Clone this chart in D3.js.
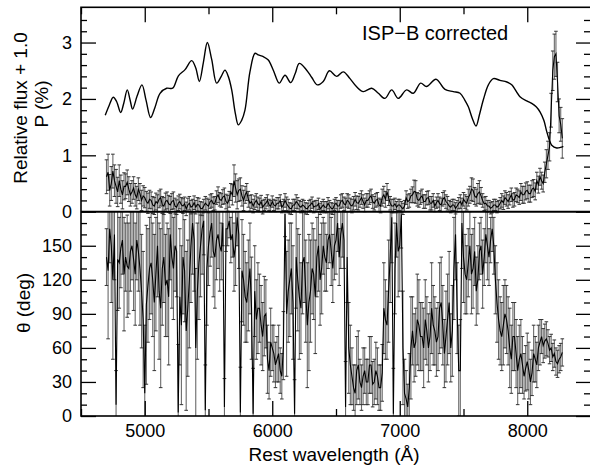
<!DOCTYPE html>
<html>
<head>
<meta charset="utf-8">
<script src="https://cdn.jsdelivr.net/npm/d3@7"></script>
<style>
  body { margin: 0; background: #fff; }
  text { font-family: "Liberation Sans", Arial, Helvetica, sans-serif; fill: #000; }
</style>
</head>
<body>
<div id="chart-area"></div>
<script>
// bin centres (Angstrom) of the polarimetry, one row per 100 A
var wave = [4700, 4712.5, 4725, 4737.5, 4750, 4762.5, 4775, 4787.5,
  4800, 4812.5, 4825, 4837.5, 4850, 4862.5, 4875, 4887.5,
  4900, 4912.5, 4925, 4937.5, 4950, 4962.5, 4975, 4987.5,
  5000, 5012.5, 5025, 5037.5, 5050, 5062.5, 5075, 5087.5,
  5100, 5112.5, 5125, 5137.5, 5150, 5162.5, 5175, 5187.5,
  5200, 5212.5, 5225, 5237.5, 5250, 5262.5, 5275, 5287.5,
  5300, 5312.5, 5325, 5337.5, 5350, 5362.5, 5375, 5387.5,
  5400, 5412.5, 5425, 5437.5, 5450, 5462.5, 5475, 5487.5,
  5500, 5512.5, 5525, 5537.5, 5550, 5562.5, 5575, 5587.5,
  5600, 5612.5, 5625, 5637.5, 5650, 5662.5, 5675, 5687.5,
  5700, 5712.5, 5725, 5737.5, 5750, 5762.5, 5775, 5787.5,
  5800, 5812.5, 5825, 5837.5, 5850, 5862.5, 5875, 5887.5,
  5900, 5912.5, 5925, 5937.5, 5950, 5962.5, 5975, 5987.5,
  6000, 6012.5, 6025, 6037.5, 6050, 6062.5, 6075, 6087.5,
  6100, 6112.5, 6125, 6137.5, 6150, 6162.5, 6175, 6187.5,
  6200, 6212.5, 6225, 6237.5, 6250, 6262.5, 6275, 6287.5,
  6300, 6312.5, 6325, 6337.5, 6350, 6362.5, 6375, 6387.5,
  6400, 6412.5, 6425, 6437.5, 6450, 6462.5, 6475, 6487.5,
  6500, 6512.5, 6525, 6537.5, 6550, 6562.5, 6575, 6587.5,
  6600, 6612.5, 6625, 6637.5, 6650, 6662.5, 6675, 6687.5,
  6700, 6712.5, 6725, 6737.5, 6750, 6762.5, 6775, 6787.5,
  6800, 6812.5, 6825, 6837.5, 6850, 6862.5, 6875, 6887.5,
  6900, 6912.5, 6925, 6937.5, 6950, 6962.5, 6975, 6987.5,
  7000, 7012.5, 7025, 7037.5, 7050, 7062.5, 7075, 7087.5,
  7100, 7112.5, 7125, 7137.5, 7150, 7162.5, 7175, 7187.5,
  7200, 7212.5, 7225, 7237.5, 7250, 7262.5, 7275, 7287.5,
  7300, 7312.5, 7325, 7337.5, 7350, 7362.5, 7375, 7387.5,
  7400, 7412.5, 7425, 7437.5, 7450, 7462.5, 7475, 7487.5,
  7500, 7512.5, 7525, 7537.5, 7550, 7562.5, 7575, 7587.5,
  7600, 7612.5, 7625, 7637.5, 7650, 7662.5, 7675, 7687.5,
  7700, 7712.5, 7725, 7737.5, 7750, 7762.5, 7775, 7787.5,
  7800, 7812.5, 7825, 7837.5, 7850, 7862.5, 7875, 7887.5,
  7900, 7912.5, 7925, 7937.5, 7950, 7962.5, 7975, 7987.5,
  8000, 8012.5, 8025, 8037.5, 8050, 8062.5, 8075, 8087.5,
  8100, 8112.5, 8125, 8137.5, 8150, 8162.5, 8175, 8187.5,
  8200, 8212.5, 8225, 8237.5, 8250, 8262.5, 8275];

// P (%)
var pol = [0.62, 0.70, 0.38, 0.50, 0.72, 0.55, 0.45, 0.35,
  0.55, 0.40, 0.30, 0.45, 0.45, 0.52, 0.40, 0.30,
  0.35, 0.42, 0.30, 0.25, 0.40, 0.32, 0.20, 0.28,
  0.25, 0.18, 0.15, 0.22, 0.20, 0.12, 0.10, 0.18,
  0.15, 0.22, 0.25, 0.12, 0.10, 0.18, 0.20, 0.14,
  0.12, 0.18, 0.20, 0.10, 0.08, 0.15, 0.18, 0.12,
  0.10, 0.14, 0.05, 0.12, 0.15, 0.08, 0.10, 0.16,
  0.08, 0.13, 0.12, 0.06, 0.05, 0.10, 0.15, 0.12,
  0.10, 0.18, 0.20, 0.14, 0.15, 0.25, 0.30, 0.22,
  0.20, 0.26, 0.28, 0.18, 0.15, 0.22, 0.35, 0.30,
  0.55, 0.42, 0.30, 0.38, 0.40, 0.28, 0.20, 0.30,
  0.35, 0.22, 0.15, 0.18, 0.10, 0.16, 0.20, 0.14,
  0.12, 0.18, 0.08, 0.12, 0.15, 0.20, 0.12, 0.10,
  0.18, 0.12, 0.10, 0.15, 0.15, 0.20, 0.08, 0.12,
  0.20, 0.14, 0.10, 0.06, 0.05, 0.12, 0.12, 0.18,
  0.15, 0.10, 0.08, 0.12, 0.10, 0.06, 0.05, 0.10,
  0.12, 0.16, 0.08, 0.10, 0.10, 0.14, 0.05, 0.08,
  0.12, 0.08, 0.08, 0.15, 0.10, 0.06, 0.05, 0.12,
  0.15, 0.10, 0.10, 0.18, 0.20, 0.14, 0.12, 0.20,
  0.18, 0.12, 0.10, 0.15, 0.22, 0.16, 0.15, 0.20,
  0.25, 0.18, 0.12, 0.20, 0.20, 0.25, 0.28, 0.18,
  0.15, 0.20, 0.22, 0.12, 0.10, 0.25, 0.30, 0.22,
  0.35, 0.25, 0.15, 0.10, 0.10, 0.14, 0.08, 0.12,
  0.12, 0.08, 0.05, 0.10, 0.25, 0.18, 0.20, 0.28,
  0.30, 0.36, 0.35, 0.22, 0.20, 0.25, 0.28, 0.18,
  0.18, 0.24, 0.25, 0.15, 0.15, 0.20, 0.10, 0.16,
  0.20, 0.14, 0.12, 0.22, 0.25, 0.18, 0.15, 0.10,
  0.08, 0.12, 0.12, 0.06, 0.10, 0.15, 0.18, 0.12,
  0.22, 0.18, 0.15, 0.25, 0.30, 0.40, 0.38, 0.28,
  0.25, 0.32, 0.35, 0.28, 0.20, 0.14, 0.15, 0.10,
  0.10, 0.06, 0.08, 0.12, 0.12, 0.08, 0.10, 0.15,
  0.20, 0.16, 0.25, 0.22, 0.18, 0.24, 0.30, 0.20,
  0.22, 0.30, 0.28, 0.25, 0.35, 0.30, 0.30, 0.36,
  0.38, 0.32, 0.32, 0.40, 0.42, 0.36, 0.55, 0.48,
  0.62, 0.55, 0.50, 0.70, 0.85, 1.00, 1.15, 1.80,
  2.50, 2.75, 2.80, 2.30, 1.70, 1.55, 1.30];

var polErr = [0.30, 0.32, 0.28, 0.30, 0.30, 0.28, 0.30, 0.26,
  0.28, 0.25, 0.25, 0.24, 0.22, 0.22, 0.22, 0.20,
  0.20, 0.20, 0.20, 0.20, 0.20, 0.18, 0.18, 0.18,
  0.18, 0.18, 0.18, 0.16, 0.15, 0.15, 0.15, 0.15,
  0.15, 0.15, 0.15, 0.15, 0.15, 0.15, 0.15, 0.15,
  0.15, 0.14, 0.15, 0.14, 0.13, 0.13, 0.13, 0.13,
  0.13, 0.12, 0.12, 0.12, 0.12, 0.12, 0.12, 0.12,
  0.12, 0.12, 0.12, 0.12, 0.12, 0.12, 0.12, 0.12,
  0.12, 0.12, 0.12, 0.12, 0.12, 0.12, 0.14, 0.12,
  0.12, 0.13, 0.14, 0.13, 0.14, 0.14, 0.15, 0.18,
  0.28, 0.25, 0.25, 0.20, 0.20, 0.18, 0.18, 0.15,
  0.15, 0.14, 0.14, 0.12, 0.12, 0.12, 0.12, 0.12,
  0.12, 0.11, 0.12, 0.10, 0.10, 0.10, 0.10, 0.10,
  0.10, 0.10, 0.10, 0.10, 0.10, 0.10, 0.10, 0.10,
  0.12, 0.12, 0.12, 0.10, 0.10, 0.10, 0.10, 0.12,
  0.10, 0.10, 0.10, 0.10, 0.10, 0.10, 0.10, 0.10,
  0.10, 0.10, 0.10, 0.10, 0.10, 0.10, 0.10, 0.10,
  0.10, 0.10, 0.10, 0.10, 0.10, 0.10, 0.10, 0.10,
  0.10, 0.10, 0.10, 0.12, 0.12, 0.12, 0.12, 0.12,
  0.12, 0.12, 0.12, 0.12, 0.12, 0.12, 0.12, 0.12,
  0.12, 0.12, 0.12, 0.12, 0.12, 0.12, 0.12, 0.12,
  0.12, 0.12, 0.12, 0.12, 0.12, 0.15, 0.15, 0.14,
  0.15, 0.14, 0.12, 0.12, 0.12, 0.10, 0.10, 0.10,
  0.10, 0.10, 0.10, 0.10, 0.12, 0.12, 0.12, 0.12,
  0.14, 0.20, 0.20, 0.12, 0.12, 0.12, 0.12, 0.12,
  0.12, 0.12, 0.12, 0.12, 0.12, 0.12, 0.10, 0.10,
  0.12, 0.12, 0.12, 0.12, 0.12, 0.12, 0.12, 0.10,
  0.10, 0.10, 0.10, 0.10, 0.10, 0.10, 0.12, 0.12,
  0.12, 0.12, 0.12, 0.15, 0.15, 0.20, 0.20, 0.15,
  0.15, 0.18, 0.20, 0.15, 0.12, 0.12, 0.12, 0.10,
  0.10, 0.10, 0.10, 0.10, 0.10, 0.10, 0.10, 0.10,
  0.12, 0.12, 0.12, 0.12, 0.12, 0.12, 0.12, 0.12,
  0.12, 0.12, 0.12, 0.12, 0.15, 0.15, 0.15, 0.15,
  0.15, 0.15, 0.15, 0.15, 0.15, 0.15, 0.15, 0.15,
  0.15, 0.15, 0.15, 0.18, 0.25, 0.25, 0.25, 0.30,
  0.35, 0.40, 0.40, 0.35, 0.30, 0.30, 0.35];

// position angle (deg)
var theta = [140, 128, 165, 150, 120, 160, 10, 138,
  135, 148, 155, 125, 140, 132, 130, 145,
  150, 138, 125, 155, 145, 130, 110, 85,
  20, 98, 115, 130, 135, 120, 100, 125,
  150, 110, 95, 130, 140, 115, 120, 105,
  160, 140, 130, 150, 145, 3, 105, 80,
  140, 128, 75, 95, 120, 150, 170, 155,
  60, 110, 135, 150, 165, 172, 5, 130,
  150, 162, 170, 145, 140, 155, 160, 150,
  145, 170, 8, 165, 165, 172, 155, 160,
  140, 150, 175, 160, 3, 128, 120, 105,
  100, 115, 130, 95, 2, 110, 85, 95,
  95, 80, 70, 88, 90, 50, 40, 65,
  60, 55, 45, 50, 55, 40, 35, 62,
  178, 90, 110, 120, 130, 100, 2, 140,
  120, 105, 95, 135, 140, 110, 80, 100,
  110, 130, 125, 105, 140, 150, 120, 130,
  150, 140, 135, 155, 160, 145, 130, 150,
  155, 170, 140, 160, 170, 155, 8, 140,
  60, 45, 35, 25, 20, 40, 45, 30,
  25, 35, 40, 30, 30, 45, 45, 28,
  30, 40, 35, 25, 25, 38, 95, 85,
  80, 110, 140, 175, 2, 130, 170, 145,
  150, 178, 60, 20, 15, 8, 25, 60,
  75, 60, 65, 85, 80, 70, 70, 60,
  85, 75, 60, 70, 95, 80, 75, 65,
  70, 95, 100, 80, 55, 70, 85, 100,
  60, 75, 130, 160, 95, 40, 40, 170,
  140, 125, 120, 135, 150, 125, 130, 145,
  110, 120, 145, 150, 125, 140, 160, 150,
  140, 155, 165, 150, 120, 100, 85, 75,
  70, 80, 90, 85, 75, 60, 50, 70,
  70, 55, 40, 50, 55, 45, 35, 42,
  48, 40, 30, 38, 55, 50, 45, 60,
  65, 70, 62, 66, 68, 64, 58, 60,
  52, 55, 48, 46, 50, 52, 56];

var thetaErr = [25, 60, 30, 50, 70, 40, 30, 45,
  40, 35, 30, 50, 30, 45, 40, 35,
  30, 45, 45, 35, 35, 50, 50, 60,
  60, 70, 50, 45, 45, 50, 60, 50,
  45, 60, 70, 50, 40, 45, 50, 60,
  40, 45, 45, 40, 40, 60, 60, 70,
  50, 45, 70, 60, 60, 50, 45, 45,
  70, 60, 50, 45, 40, 30, 40, 50,
  35, 30, 30, 40, 45, 35, 30, 40,
  25, 20, 25, 20, 15, 15, 20, 20,
  30, 35, 25, 30, 40, 45, 40, 40,
  35, 40, 40, 45, 40, 40, 35, 40,
  30, 35, 30, 35, 30, 30, 25, 30,
  20, 25, 20, 20, 25, 20, 20, 30,
  20, 55, 45, 50, 40, 50, 30, 45,
  45, 55, 40, 45, 40, 45, 55, 60,
  45, 40, 40, 50, 35, 40, 40, 40,
  25, 30, 25, 25, 25, 30, 30, 30,
  30, 25, 25, 30, 30, 25, 40, 40,
  40, 35, 25, 20, 25, 30, 30, 20,
  20, 25, 20, 20, 20, 25, 25, 20,
  20, 25, 25, 20, 20, 25, 40, 35,
  30, 45, 40, 40, 40, 40, 30, 40,
  40, 30, 50, 30, 25, 20, 30, 45,
  30, 30, 30, 40, 40, 30, 30, 35,
  35, 30, 30, 30, 40, 35, 30, 30,
  30, 40, 40, 35, 30, 40, 40, 45,
  30, 40, 45, 40, 40, 40, 45, 40,
  40, 35, 30, 30, 30, 35, 35, 30,
  30, 30, 25, 25, 30, 25, 25, 30,
  25, 20, 20, 25, 30, 35, 35, 30,
  30, 35, 30, 30, 30, 35, 30, 30,
  30, 30, 30, 30, 30, 25, 20, 20,
  25, 25, 20, 20, 25, 20, 20, 20,
  20, 15, 15, 15, 15, 12, 12, 12,
  12, 12, 12, 12, 12, 12, 12];

// flux spectrum (relative flux + 1.0)
var fluxWave = [4690, 4720, 4753, 4780, 4811, 4835, 4863, 4885, 4905, 4940,
  4978, 5010, 5046, 5080, 5120, 5172, 5219, 5264, 5316, 5368,
  5400, 5428, 5460, 5491, 5525, 5564, 5600, 5629, 5655, 5682,
  5710, 5734, 5760, 5786, 5825, 5865, 5890, 5930, 5969, 6010,
  6055, 6100, 6145, 6180, 6212, 6270, 6310, 6353, 6400, 6448,
  6505, 6557, 6610, 6660, 6714, 6780, 6832, 6884, 6937, 6988,
  7054, 7106, 7164, 7210, 7284, 7355, 7420, 7473, 7510, 7538,
  7570, 7598, 7625, 7655, 7695, 7734, 7786, 7840, 7878, 7943,
  8000, 8035, 8070, 8100, 8130, 8153, 8175, 8192, 8231, 8260,
  8283];
var flux = [1.71, 1.88, 2.03, 1.95, 1.76, 1.92, 2.16, 1.98, 1.82, 2.05,
  2.25, 1.98, 1.67, 1.85, 2.10, 2.19, 2.19, 2.41, 2.52, 2.68,
  2.55, 2.31, 2.65, 3.00, 2.70, 2.28, 2.40, 2.51, 2.40, 2.16,
  1.75, 1.54, 1.62, 1.80, 2.48, 2.81, 2.78, 2.75, 2.69, 2.50,
  2.28, 2.42, 2.29, 2.45, 2.63, 2.51, 2.38, 2.25, 2.31, 2.50,
  2.40, 2.48, 2.36, 2.22, 2.13, 2.19, 2.10, 2.01, 2.16, 2.01,
  2.16, 2.10, 2.28, 2.22, 2.35, 2.17, 2.13, 2.10, 1.98, 1.86,
  1.65, 1.52, 1.72, 1.98, 2.25, 2.36, 2.33, 2.30, 2.25, 2.04,
  1.96, 1.92, 1.86, 1.77, 1.62, 1.42, 1.26, 1.18, 1.13, 1.14,
  1.16];

var xTicks = [5000, 6000, 7000, 8000];
var xMinor = [4500, 5500, 6500, 7500, 8500];
var pTicks = [0, 1, 2, 3];
var pMinor = [0.2, 0.4, 0.6, 0.8, 1.2, 1.4, 1.6, 1.8, 2.2, 2.4, 2.6, 2.8, 3.2, 3.4];
var thetaTicks = [0, 30, 60, 90, 120, 150];
var thetaMinor = [10, 20, 40, 50, 70, 80, 100, 110, 130, 140, 160, 170];

var width = 590
var height = 466
var plot = { left: 81, right: 591, top: 7.3, mid: 211.7, bottom: 416 }

var svg = d3.select("#chart-area")
  .append("svg")
  .attr("width", width)
  .attr("height", height)

var x = d3.scaleLinear().domain([4500, 8500]).range([plot.left, plot.right])
var yP = d3.scaleLinear().domain([0, 3.625]).range([plot.mid, plot.top])
var yT = d3.scaleLinear().domain([0, 180]).range([plot.bottom, plot.mid])

var defs = svg.append("defs")
defs.append("clipPath").attr("id", "clipP").append("rect")
  .attr("x", plot.left).attr("y", plot.top)
  .attr("width", plot.right - plot.left).attr("height", plot.mid - plot.top + 10)
defs.append("clipPath").attr("id", "clipT").append("rect")
  .attr("x", plot.left).attr("y", plot.mid)
  .attr("width", plot.right - plot.left).attr("height", plot.bottom - plot.mid)

var polData = wave.map((w, i) => { return { w: w, v: pol[i], e: polErr[i] }; })
var thetaData = wave.map((w, i) => { return { w: w, v: theta[i], e: thetaErr[i] }; })

function drawErrors(g, data, y) {
  g.selectAll("line.bar").data(data).enter().append("line")
    .attr("class", "bar")
    .attr("x1", (d) => { return x(d.w); })
    .attr("x2", (d) => { return x(d.w); })
    .attr("y1", (d) => { return y(d.v - d.e); })
    .attr("y2", (d) => { return y(d.v + d.e); })
    .attr("stroke", "#6a6a6a")
    .attr("stroke-width", 1.1)

  var caps = data.flatMap((d) => { return [{ w: d.w, v: d.v - d.e }, { w: d.w, v: d.v + d.e }]; })
  g.selectAll("line.cap").data(caps).enter().append("line")
    .attr("class", "cap")
    .attr("x1", (d) => { return x(d.w) - 1.8; })
    .attr("x2", (d) => { return x(d.w) + 1.8; })
    .attr("y1", (d) => { return y(d.v); })
    .attr("y2", (d) => { return y(d.v); })
    .attr("stroke", "#333")
    .attr("stroke-width", 1)

  var line = d3.line()
    .x((d) => { return x(d.w); })
    .y((d) => { return y(d.v); })
  g.append("path")
    .datum(data)
    .attr("d", line)
    .attr("fill", "none")
    .attr("stroke", "#000")
    .attr("stroke-width", 1.1)
}

// theta panel
var gT = svg.append("g").attr("clip-path", "url(#clipT)")
drawErrors(gT, thetaData, yT)

// P panel
var gP = svg.append("g").attr("clip-path", "url(#clipP)")
drawErrors(gP, polData, yP)

// flux
var fluxLine = d3.line()
  .curve(d3.curveCatmullRom)
  .x((d, i) => { return x(fluxWave[i]); })
  .y((d) => { return yP(d); })
gP.append("path")
  .datum(flux)
  .attr("d", fluxLine)
  .attr("fill", "none")
  .attr("stroke", "#000")
  .attr("stroke-width", 1.4)

// zero line between panels
svg.append("line")
  .attr("x1", plot.left).attr("x2", plot.right)
  .attr("y1", plot.mid).attr("y2", plot.mid)
  .attr("stroke", "#000").attr("stroke-width", 2)

// frame
svg.append("rect")
  .attr("x", plot.left).attr("y", plot.top)
  .attr("width", plot.right - plot.left).attr("height", plot.bottom - plot.top)
  .attr("fill", "none").attr("stroke", "#000").attr("stroke-width", 1.6)

function addAxis(axis, tx, ty) {
  var g = svg.append("g")
    .attr("transform", `translate(${tx}, ${ty})`)
    .call(axis)
  g.select(".domain").remove()
  g.selectAll(".tick line").attr("stroke", "#000").attr("stroke-width", 1.3)
  g.selectAll(".tick text").attr("font-size", "18px").attr("fill", "#000")
  return g
}

// x axes
addAxis(d3.axisBottom(x).tickValues(xTicks).tickSize(-15).tickPadding(8).tickFormat(d3.format("d")), 0, plot.bottom)
addAxis(d3.axisBottom(x).tickValues(xMinor).tickSize(-7).tickFormat(""), 0, plot.bottom)
addAxis(d3.axisTop(x).tickValues(xTicks).tickSize(-15).tickFormat(""), 0, plot.top)
addAxis(d3.axisTop(x).tickValues(xMinor).tickSize(-7).tickFormat(""), 0, plot.top)

// P axes
addAxis(d3.axisLeft(yP).tickValues(pTicks).tickSize(-15).tickPadding(9).tickFormat(d3.format("d")), plot.left, 0)
addAxis(d3.axisLeft(yP).tickValues(pMinor).tickSize(-6).tickFormat(""), plot.left, 0)
addAxis(d3.axisRight(yP).tickValues(pTicks).tickSize(-15).tickFormat(""), plot.right, 0)
addAxis(d3.axisRight(yP).tickValues(pMinor).tickSize(-7).tickFormat(""), plot.right, 0)

// theta axes
addAxis(d3.axisLeft(yT).tickValues(thetaTicks).tickSize(-15).tickPadding(9).tickFormat(d3.format("d")), plot.left, 0)
addAxis(d3.axisLeft(yT).tickValues(thetaMinor).tickSize(-6).tickFormat(""), plot.left, 0)
addAxis(d3.axisRight(yT).tickValues(thetaTicks).tickSize(-15).tickFormat(""), plot.right, 0)
addAxis(d3.axisRight(yT).tickValues(thetaMinor).tickSize(-7).tickFormat(""), plot.right, 0)

// labels
svg.append("text")
  .attr("x", (plot.left + plot.right) / 2 - 2)
  .attr("y", 461)
  .attr("text-anchor", "middle")
  .attr("font-size", "19px")
  .text("Rest wavelength (Å)")

svg.append("text")
  .attr("transform", "translate(27, 108) rotate(-90)")
  .attr("text-anchor", "middle")
  .attr("font-size", "19px")
  .text("Relative flux + 1.0")

svg.append("text")
  .attr("transform", "translate(48, 104) rotate(-90)")
  .attr("text-anchor", "middle")
  .attr("font-size", "19px")
  .text("P (%)")

svg.append("text")
  .attr("transform", "translate(30, 303) rotate(-90)")
  .attr("text-anchor", "middle")
  .attr("font-size", "19px")
  .text("θ (deg)")

svg.append("text")
  .attr("x", 362)
  .attr("y", 39.5)
  .attr("font-size", "20px")
  .text("ISP\u2212B corrected")
</script>
</body>
</html>
